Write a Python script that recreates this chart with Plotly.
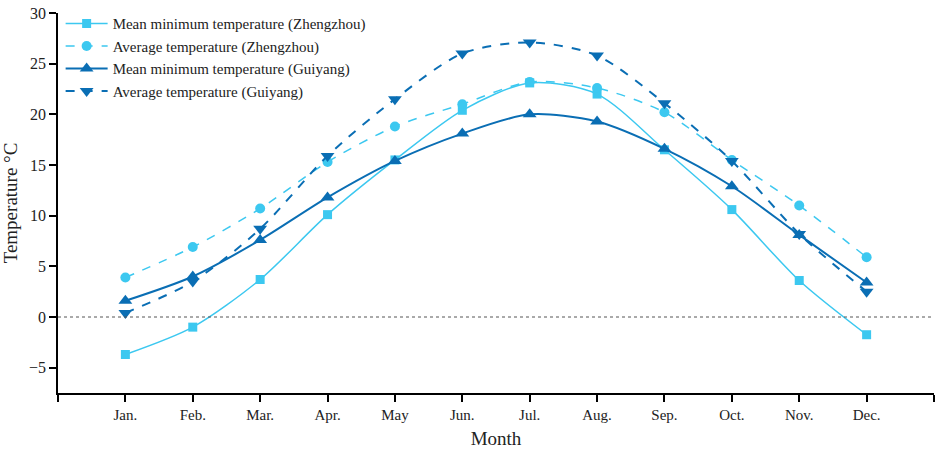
import plotly.graph_objects as go

months = ["Jan.", "Feb.", "Mar.", "Apr.", "May", "Jun.", "Jul.", "Aug.", "Sep.", "Oct.", "Nov.", "Dec."]
month_pos = [1, 2, 3, 4, 5, 6, 7, 8, 9, 10, 11, 12]

zz_min = [-3.7, -1.0, 3.7, 10.1, 15.5, 20.4, 23.1, 22.0, 16.5, 10.6, 3.6, -1.75]
zz_avg = [3.9, 6.9, 10.7, 15.3, 18.8, 21.0, 23.2, 22.6, 20.2, 15.5, 11.0, 5.9]
gy_min = [1.6, 4.0, 7.6, 11.8, 15.4, 18.1, 20.0, 19.3, 16.6, 12.9, 8.1, 3.4]
gy_avg = [0.4, 3.5, 8.7, 15.9, 21.5, 26.0, 27.1, 25.8, 21.1, 15.4, 8.2, 2.5]

light = "#3cc8f0"
dark = "#0a6eb4"

fig = go.Figure()

series = [
    ("Mean minimum temperature (Zhengzhou)", zz_min, light, "solid", "square", 9, 1.5),
    ("Average temperature (Zhengzhou)", zz_avg, light, "dash", "circle", 10, 1.5),
    ("Mean minimum temperature (Guiyang)", gy_min, dark, "solid", "triangle-up", 12, 2),
    ("Average temperature (Guiyang)", gy_avg, dark, "dash", "triangle-down", 12, 2),
]
for name, vals, col, dash, sym, size, w in series:
    fig.add_trace(go.Scatter(
        x=month_pos, y=vals, name=name, mode="lines+markers",
        line=dict(color=col, dash=dash, width=w, shape="spline", smoothing=0.8),
        marker=dict(symbol=sym, size=size, color=col),
    ))

# zero reference line
fig.add_shape(type="line", xref="paper", x0=0, x1=1, yref="y", y0=0, y1=0,
              line=dict(color="#555555", width=1, dash="dot"))

fig.update_layout(
    width=941, height=453,
    margin=dict(l=58, r=7, t=8, b=60),
    paper_bgcolor="white", plot_bgcolor="white",
    font=dict(family="Liberation Serif", size=15, color="#222222"),
    showlegend=True,
    legend=dict(x=0.003, y=1.015, xanchor="left", yanchor="top",
                bgcolor="rgba(0,0,0,0)", font=dict(size=15),
                tracegroupgap=0, itemwidth=42),
)
fig.update_xaxes(
    range=[0, 13], tickvals=[0] + month_pos + [13], ticktext=[""] + months + [""],
    showline=True, linecolor="black", linewidth=1.5,
    ticks="outside", ticklen=7, tickwidth=1.5, tickcolor="black",
    showgrid=False, zeroline=False, automargin=False,
    title=dict(text="Month", font=dict(size=19), standoff=10),
    tickfont=dict(size=15),
)
fig.update_yaxes(
    range=[-7.5, 30], tickvals=[-5, 0, 5, 10, 15, 20, 25, 30],
    showline=True, linecolor="black", linewidth=1.5,
    ticks="outside", ticklen=7, tickwidth=1.5, tickcolor="black",
    showgrid=False, zeroline=False, automargin=False,
    ticklabeloverflow="allow",
    title=dict(text="Temperature °C", font=dict(size=19), standoff=8),
    tickfont=dict(size=16),
)

fig.write_html("out.html", config={"displayModeBar": False},
               post_script="document.body.style.margin='0';")
